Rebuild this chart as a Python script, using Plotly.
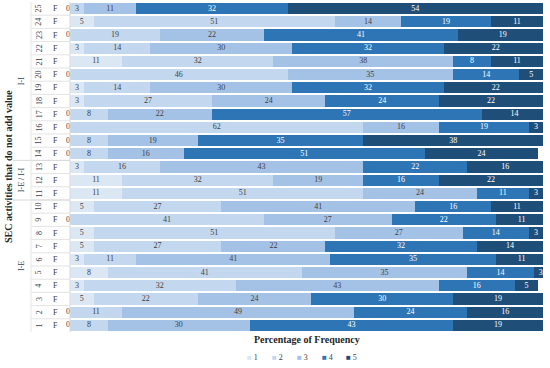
import plotly.graph_objects as go

rows = list(range(1, 26))
s1 = [0, 0, 5, 3, 8, 3, 5, 5, 0, 5, 11, 11, 3, 0, 0, 0, 0, 3, 3, 0, 11, 3, 0, 5, 0]
s2 = [8, 11, 22, 32, 41, 11, 27, 51, 41, 27, 51, 32, 16, 8, 8, 62, 8, 27, 14, 46, 32, 14, 19, 51, 3]
s3 = [30, 49, 24, 43, 35, 41, 22, 27, 27, 41, 24, 19, 43, 16, 19, 16, 22, 24, 30, 35, 38, 30, 22, 14, 11]
s4 = [43, 24, 30, 16, 14, 35, 32, 14, 22, 16, 11, 16, 22, 51, 35, 19, 57, 24, 32, 14, 8, 32, 41, 19, 32]
s5 = [19, 16, 19, 5, 3, 11, 14, 3, 11, 11, 3, 22, 16, 24, 38, 3, 14, 22, 22, 5, 11, 22, 19, 11, 54]
series_names = ["1", "2", "3", "4", "5"]
row_type = "F"
groups = [("I-E", 1, 10), ("I-E / I-I", 11, 13), ("I-I", 14, 25)]
y_title = "SEC activities that do not add value"
x_title = "Percentage of Frequency"

colors = ["#dce7f4", "#c3d7ee", "#a4c2e6", "#2e75b6", "#1f4e79"]
text_colors = ["#404040", "#404040", "#404040", "#ffffff", "#ffffff"]
FONT = "Liberation Serif"

series = [s1, s2, s3, s4, s5]
fig = go.Figure()
for name, vals, c in zip(series_names, series, colors):
    fig.add_trace(go.Bar(y=rows, x=vals, orientation="h", name=name,
                         marker=dict(color=c, line=dict(width=0)),
                         showlegend=False, hoverinfo="x"))

# labels at segment midpoints (zero values sit just left of the segment start)
cum = [0] * len(rows)
for vals, tc in zip(series, text_colors):
    xs = [cum[i] + vals[i] / 2 for i in range(len(rows))]
    pos = ["middle left" if v == 0 else "middle center" for v in vals]
    tcol = ["#404040" if v == 0 else tc for v in vals]
    fig.add_trace(go.Scatter(x=xs, y=rows, mode="text", text=[str(v) for v in vals],
                             textposition=pos,
                             textfont=dict(family=FONT, size=8, color=tcol),
                             showlegend=False, cliponaxis=False, hoverinfo="skip"))
    cum = [cum[i] + vals[i] for i in range(len(rows))]

L, R, T, B = 70, 7, 2, 36
W, H = 550, 368
pw = W - L - R
ph = H - T - B

def px2paper(px):
    return (px - L) / pw

def py2paper(py):
    return (H - B - py) / ph

annotations = []
shapes = []
for r in rows:
    annotations.append(dict(x=px2paper(39), y=r, xref="paper", yref="y", text=str(r),
                            showarrow=False, textangle=-90, xanchor="center", yanchor="middle",
                            font=dict(family=FONT, size=8, color="#404040")))
    annotations.append(dict(x=px2paper(55), y=r, xref="paper", yref="y", text=row_type,
                            showarrow=False, xanchor="center", yanchor="middle",
                            font=dict(family=FONT, size=8, color="#404040")))
    if r < 25:
        shapes.append(dict(type="line", xref="paper", yref="y", x0=px2paper(31), x1=0,
                           y0=r + 0.5, y1=r + 0.5, line=dict(color="#e3e3e3", width=1)))
for name, a, b in groups:
    annotations.append(dict(x=px2paper(21), y=(a + b) / 2, xref="paper", yref="y", text=name,
                            showarrow=False, textangle=-90, xanchor="center", yanchor="middle",
                            font=dict(family=FONT, size=8, color="#404040")))
    if a > 1:
        shapes.append(dict(type="line", xref="paper", yref="y", x0=px2paper(13), x1=0,
                           y0=a - 0.5, y1=a - 0.5, line=dict(color="#d9d9d9", width=1)))
shapes.append(dict(type="line", xref="paper", yref="paper", x0=px2paper(31), x1=px2paper(31),
                   y0=0, y1=1, line=dict(color="#e6e6e6", width=1)))
shapes.append(dict(type="line", xref="paper", yref="paper", x0=0, x1=0,
                   y0=0, y1=1, line=dict(color="#d9d9d9", width=1)))

annotations.append(dict(x=px2paper(8), y=0.5, xref="paper", yref="paper", text="<b>" + y_title + "</b>",
                        showarrow=False, textangle=-90, xanchor="center", yanchor="middle",
                        font=dict(family=FONT, size=10, color="#262626")))
annotations.append(dict(x=0.5, y=py2paper(339), xref="paper", yref="paper", text="<b>" + x_title + "</b>",
                        showarrow=False, xanchor="center", yanchor="middle",
                        font=dict(family=FONT, size=10, color="#262626")))

# compact legend row
leg_x = [252, 277, 302, 327, 351]
for name, c, lx in zip(series_names, colors, leg_x):
    annotations.append(dict(x=px2paper(lx), y=py2paper(357), xref="paper", yref="paper",
                            text='<span style="color:%s">■</span> %s' % (c, name),
                            showarrow=False, xanchor="center", yanchor="middle",
                            font=dict(family=FONT, size=8, color="#404040")))

fig.update_layout(
    width=W, height=H, barmode="stack", bargap=0.16,
    margin=dict(l=L, r=R, t=T, b=B),
    paper_bgcolor="white", plot_bgcolor="white",
    xaxis=dict(range=[0, 100], showticklabels=False, showgrid=False, zeroline=False, ticks=""),
    yaxis=dict(range=[0.5, 25.5], showticklabels=False, showgrid=False, zeroline=False, ticks=""),
    annotations=annotations, shapes=shapes,
)
fig.write_html("out.html", config={"displayModeBar": False},
               post_script="document.body.style.margin='0';")
